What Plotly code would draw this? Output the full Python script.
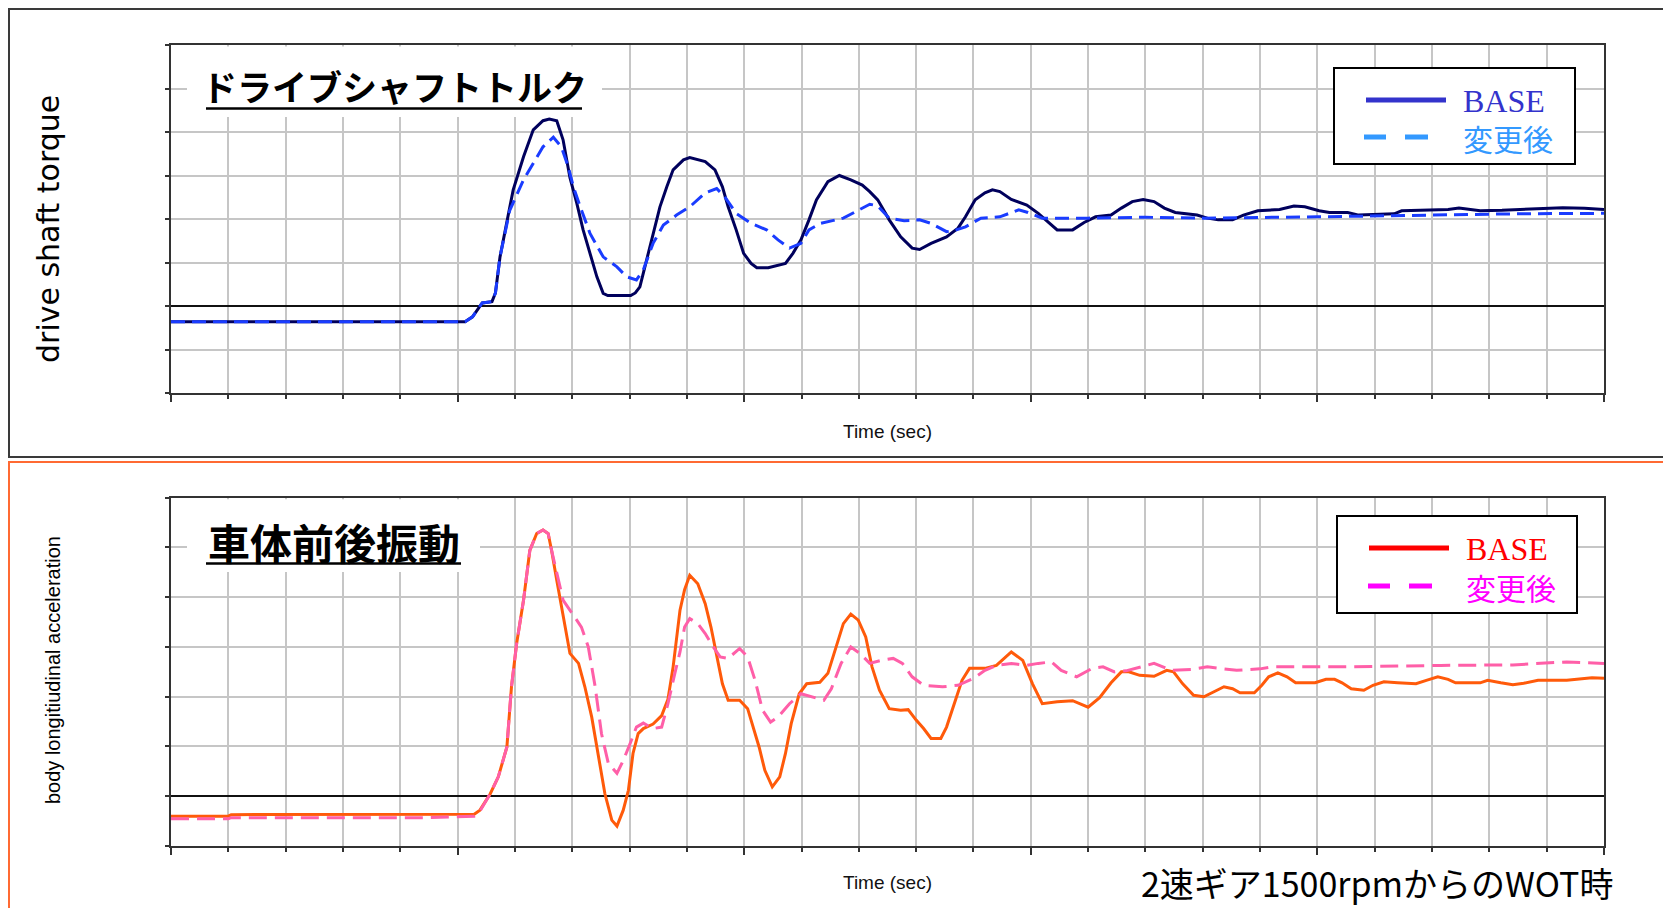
import plotly.graph_objects as go

# ---------------- data: (time [s], value) ----------------
torque_base = [
    (0.000, -0.36), (0.513, -0.36), (0.526, -0.25), (0.543, 0.07), (0.560, 0.10), (0.566, 0.30),
    (0.574, 1.13), (0.586, 1.98), (0.597, 2.67), (0.615, 3.43), (0.632, 4.05), (0.649, 4.26),
    (0.660, 4.30), (0.673, 4.26), (0.684, 3.82), (0.696, 2.95), (0.708, 2.36), (0.719, 1.75),
    (0.731, 1.21), (0.743, 0.67), (0.754, 0.29), (0.762, 0.24), (0.802, 0.24), (0.810, 0.30),
    (0.818, 0.44), (0.830, 1.06), (0.841, 1.67), (0.853, 2.28), (0.865, 2.74), (0.876, 3.13),
    (0.894, 3.36), (0.905, 3.41), (0.932, 3.32), (0.949, 3.13), (0.962, 2.74), (0.972, 2.28),
    (0.986, 1.75), (0.999, 1.21), (1.012, 0.98), (1.022, 0.88), (1.042, 0.88), (1.072, 0.98),
    (1.085, 1.21), (1.099, 1.52), (1.113, 1.98), (1.126, 2.44), (1.146, 2.86), (1.166, 3.00),
    (1.186, 2.90), (1.206, 2.78), (1.219, 2.63), (1.233, 2.44), (1.253, 1.98), (1.273, 1.59),
    (1.293, 1.33), (1.306, 1.30), (1.326, 1.44), (1.353, 1.59), (1.373, 1.79), (1.386, 2.05),
    (1.403, 2.44), (1.420, 2.60), (1.433, 2.67), (1.446, 2.63), (1.466, 2.45), (1.493, 2.32),
    (1.513, 2.13), (1.530, 1.94), (1.546, 1.75), (1.573, 1.75), (1.593, 1.92), (1.613, 2.05),
    (1.640, 2.09), (1.658, 2.25), (1.677, 2.40), (1.696, 2.45), (1.715, 2.40), (1.733, 2.25),
    (1.752, 2.15), (1.790, 2.09), (1.808, 2.02), (1.827, 1.98), (1.852, 1.98), (1.871, 2.09),
    (1.896, 2.19), (1.934, 2.22), (1.959, 2.30), (1.978, 2.28), (2.003, 2.19), (2.021, 2.15),
    (2.053, 2.15), (2.072, 2.09), (2.134, 2.12), (2.147, 2.19), (2.228, 2.22), (2.247, 2.25),
    (2.284, 2.19), (2.322, 2.20), (2.428, 2.26), (2.466, 2.25), (2.500, 2.22),
]

torque_mod = [
    (0.000, -0.36), (0.513, -0.36), (0.526, -0.25), (0.543, 0.07), (0.560, 0.10), (0.566, 0.30),
    (0.574, 1.13), (0.591, 2.20), (0.615, 2.90), (0.632, 3.28), (0.649, 3.66), (0.667, 3.88),
    (0.681, 3.66), (0.693, 3.20), (0.702, 2.74), (0.714, 2.28), (0.731, 1.67), (0.754, 1.13),
    (0.778, 0.90), (0.795, 0.67), (0.812, 0.60), (0.824, 0.83), (0.841, 1.44), (0.859, 1.86),
    (0.882, 2.09), (0.905, 2.28), (0.932, 2.60), (0.952, 2.70), (0.966, 2.51), (0.986, 2.13),
    (1.012, 1.90), (1.039, 1.75), (1.059, 1.52), (1.079, 1.33), (1.099, 1.44), (1.113, 1.75),
    (1.133, 1.90), (1.173, 2.02), (1.199, 2.21), (1.219, 2.34), (1.233, 2.30), (1.253, 2.02),
    (1.279, 1.96), (1.306, 1.98), (1.326, 1.90), (1.353, 1.71), (1.366, 1.73), (1.386, 1.82),
    (1.413, 2.02), (1.446, 2.05), (1.479, 2.21), (1.495, 2.15), (1.520, 2.02), (1.600, 2.02),
    (1.700, 2.04), (1.800, 2.02), (2.000, 2.05), (2.200, 2.09), (2.350, 2.12), (2.500, 2.13),
]

accel_base = [
    (0.000, -0.40), (0.100, -0.40), (0.105, -0.37), (0.450, -0.37), (0.529, -0.36), (0.539, -0.28),
    (0.557, 0.05), (0.571, 0.39), (0.586, 0.99), (0.594, 2.20), (0.603, 3.07), (0.615, 3.94),
    (0.626, 4.94), (0.638, 5.28), (0.649, 5.35), (0.658, 5.28), (0.664, 4.94), (0.673, 4.34),
    (0.684, 3.60), (0.696, 2.87), (0.711, 2.67), (0.722, 2.20), (0.734, 1.59), (0.745, 0.86),
    (0.757, 0.05), (0.769, -0.48), (0.778, -0.60), (0.789, -0.28), (0.798, 0.12), (0.806, 0.86),
    (0.815, 1.26), (0.824, 1.36), (0.841, 1.45), (0.856, 1.62), (0.867, 1.95), (0.876, 2.60),
    (0.888, 3.74), (0.896, 4.15), (0.905, 4.44), (0.919, 4.27), (0.932, 3.87), (0.942, 3.40),
    (0.952, 2.80), (0.962, 2.26), (0.972, 1.93), (0.992, 1.93), (1.006, 1.76), (1.016, 1.39),
    (1.026, 0.99), (1.036, 0.52), (1.049, 0.19), (1.062, 0.39), (1.072, 0.86), (1.082, 1.46),
    (1.096, 2.06), (1.109, 2.26), (1.132, 2.29), (1.146, 2.47), (1.159, 2.93), (1.173, 3.47),
    (1.186, 3.66), (1.199, 3.54), (1.212, 3.20), (1.223, 2.60), (1.236, 2.13), (1.253, 1.76),
    (1.273, 1.73), (1.286, 1.74), (1.300, 1.53), (1.313, 1.36), (1.326, 1.16), (1.343, 1.16),
    (1.353, 1.39), (1.366, 1.86), (1.380, 2.33), (1.393, 2.57), (1.420, 2.57), (1.440, 2.63),
    (1.456, 2.80), (1.466, 2.90), (1.486, 2.73), (1.503, 2.26), (1.520, 1.86), (1.546, 1.90),
    (1.573, 1.92), (1.600, 1.79), (1.620, 1.98), (1.640, 2.28), (1.658, 2.50), (1.671, 2.50),
    (1.690, 2.43), (1.715, 2.41), (1.737, 2.53), (1.749, 2.50), (1.765, 2.26), (1.784, 2.03),
    (1.802, 2.00), (1.821, 2.10), (1.837, 2.20), (1.852, 2.16), (1.865, 2.08), (1.890, 2.08),
    (1.903, 2.23), (1.915, 2.40), (1.931, 2.48), (1.947, 2.40), (1.962, 2.28), (1.996, 2.28),
    (2.015, 2.35), (2.030, 2.35), (2.043, 2.28), (2.059, 2.16), (2.081, 2.13), (2.097, 2.23),
    (2.116, 2.30), (2.140, 2.28), (2.172, 2.26), (2.190, 2.33), (2.210, 2.40), (2.228, 2.35),
    (2.241, 2.28), (2.284, 2.28), (2.297, 2.33), (2.320, 2.28), (2.341, 2.24), (2.360, 2.27),
    (2.385, 2.33), (2.435, 2.33), (2.479, 2.38), (2.500, 2.37),
]

accel_mod = [
    (0.000, -0.45), (0.100, -0.45), (0.105, -0.43), (0.450, -0.43), (0.529, -0.40), (0.539, -0.30),
    (0.557, 0.05), (0.571, 0.39), (0.586, 0.99), (0.594, 2.20), (0.603, 3.07), (0.615, 3.94),
    (0.626, 4.94), (0.638, 5.28), (0.649, 5.35), (0.658, 5.28), (0.664, 4.94), (0.673, 4.47),
    (0.684, 3.94), (0.702, 3.64), (0.716, 3.40), (0.728, 3.00), (0.740, 2.20), (0.751, 1.26),
    (0.763, 0.66), (0.778, 0.46), (0.789, 0.72), (0.801, 1.06), (0.812, 1.39), (0.824, 1.47),
    (0.841, 1.36), (0.856, 1.39), (0.867, 1.86), (0.879, 2.47), (0.888, 2.90), (0.896, 3.40),
    (0.905, 3.57), (0.919, 3.47), (0.932, 3.27), (0.946, 3.00), (0.958, 2.80), (0.972, 2.77),
    (0.992, 2.97), (1.006, 2.80), (1.019, 2.33), (1.032, 1.73), (1.046, 1.49), (1.059, 1.59),
    (1.079, 1.86), (1.099, 2.06), (1.119, 2.00), (1.139, 1.93), (1.152, 2.16), (1.169, 2.67),
    (1.186, 3.00), (1.202, 2.87), (1.219, 2.67), (1.239, 2.73), (1.260, 2.77), (1.276, 2.67),
    (1.293, 2.40), (1.313, 2.23), (1.346, 2.20), (1.373, 2.23), (1.400, 2.37), (1.420, 2.53),
    (1.440, 2.63), (1.466, 2.67), (1.493, 2.63), (1.513, 2.67), (1.536, 2.70), (1.553, 2.53),
    (1.580, 2.40), (1.607, 2.57), (1.626, 2.60), (1.646, 2.50), (1.666, 2.52), (1.693, 2.60),
    (1.715, 2.67), (1.746, 2.53), (1.780, 2.55), (1.808, 2.60), (1.833, 2.57), (1.859, 2.53),
    (1.900, 2.56), (1.921, 2.60), (2.050, 2.60), (2.153, 2.62), (2.215, 2.63), (2.341, 2.64),
    (2.435, 2.70), (2.500, 2.67),
]

series_names = ["BASE", "変更後"]
panel_titles = ["ドライブシャフトトルク", "車体前後振動"]
y_titles = ["drive shaft torque", "body longitiudinal acceleration"]
x_title = "Time (sec)"
note_text = "2速ギア1500rpmからのWOT時"
time_range = [0, 2.5]
torque_range = [-2, 6]
accel_range = [-1, 6]

# ---------------- page geometry (pixels) ----------------
W, H = 1663, 908


def fx(p):
    return p / W


def fy(p):
    return 1 - p / H


PLOT_L, PLOT_R = 171, 1604
TOP_T, TOP_B = 45, 393
BOT_T, BOT_B = 497.7, 846

JP = "Noto Sans CJK JP"
GRID = "#c6c6c6"
FRAME = "#333333"


def x_at(p):
    """pixel column -> time value on the shared x scale"""
    return time_range[0] + (p - PLOT_L) / (PLOT_R - PLOT_L) * (time_range[1] - time_range[0])


def y_at(p, top, bottom, rng):
    """pixel row -> value on a panel's y scale"""
    return rng[1] - (p - top) / (bottom - top) * (rng[1] - rng[0])


fig = go.Figure()


def add_line(points, xa, ya, color, dash, name):
    fig.add_trace(go.Scatter(
        x=[p[0] for p in points], y=[p[1] for p in points],
        xaxis=xa, yaxis=ya, mode="lines", name=name, showlegend=False,
        line=dict(color=color, width=3, dash=dash), hoverinfo="skip",
    ))


add_line(torque_base, "x", "y", "#00005c", "solid", series_names[0])
add_line(torque_mod, "x", "y", "#1a3cff", "14px,7px", series_names[1])
add_line(accel_base, "x2", "y2", "#ff5a0a", "solid", series_names[0])
add_line(accel_mod, "x2", "y2", "#ff5fa8", "18px,8px", series_names[1])


def xaxis_style(anchor):
    return dict(
        domain=[fx(PLOT_L), fx(PLOT_R)], range=time_range, anchor=anchor,
        tickmode="linear", tick0=0, dtick=0.5, ticks="outside", ticklen=7, tickwidth=2,
        tickcolor=FRAME, showticklabels=False,
        showgrid=True, gridcolor=GRID, gridwidth=2,
        minor=dict(tick0=0, dtick=0.1, ticks="outside", ticklen=4, tickwidth=1.5,
                   tickcolor=FRAME, showgrid=True, gridcolor=GRID, gridwidth=2),
        showline=True, linecolor=FRAME, linewidth=2, mirror=True, zeroline=False,
        fixedrange=True,
    )


def yaxis_style(anchor, dom, rng):
    return dict(
        domain=dom, range=rng, anchor=anchor,
        tickmode="linear", tick0=0, dtick=1, ticks="outside", ticklen=4, tickwidth=2,
        tickcolor=FRAME, showticklabels=False,
        showgrid=True, gridcolor=GRID, gridwidth=2,
        zeroline=True, zerolinecolor="#111111", zerolinewidth=1.6,
        showline=True, linecolor=FRAME, linewidth=2, mirror=True, fixedrange=True,
    )


shapes = [
    # panel frames
    dict(type="rect", xref="paper", yref="paper", x0=fx(9), x1=1.02, y0=fy(457), y1=fy(9),
         line=dict(color="#3a3a3a", width=2), fillcolor="rgba(0,0,0,0)", layer="below"),
    dict(type="rect", xref="paper", yref="paper", x0=fx(9), x1=1.02, y0=-0.02, y1=fy(462),
         line=dict(color="#ff6a33", width=2), fillcolor="rgba(0,0,0,0)", layer="below"),
    # white patches behind the panel titles (over the grid, under the curves)
    dict(type="rect", xref="x", yref="y",
         x0=x_at(187), x1=x_at(602),
         y0=y_at(117, TOP_T, TOP_B, torque_range), y1=y_at(46.5, TOP_T, TOP_B, torque_range),
         fillcolor="white", line=dict(width=0), layer="between"),
    dict(type="rect", xref="x2", yref="y2",
         x0=x_at(187), x1=x_at(480),
         y0=y_at(572, BOT_T, BOT_B, accel_range), y1=y_at(499.2, BOT_T, BOT_B, accel_range),
         fillcolor="white", line=dict(width=0), layer="between"),
    # title underlines
    dict(type="line", xref="paper", yref="paper", x0=fx(206), x1=fx(582), y0=fy(108.5), y1=fy(108.5),
         line=dict(color="black", width=2.5), layer="above"),
    dict(type="line", xref="paper", yref="paper", x0=fx(206), x1=fx(461), y0=fy(563.5), y1=fy(563.5),
         line=dict(color="black", width=2.5), layer="above"),
]

annotations = []


def text(x, y, s, size, family, color="black", xanchor="center", yanchor="middle", angle=0, weight=None):
    font = dict(family=family, size=size, color=color)
    if weight is not None:
        font["weight"] = weight
    annotations.append(dict(xref="paper", yref="paper", x=fx(x), y=fy(y), text=s, showarrow=False,
                            xanchor=xanchor, yanchor=yanchor, textangle=angle, font=font))


def legend_box(x0, x1, y0, y1, y_solid, y_dash, solid_x, dash_segs, c_solid, c_dash, text_x):
    shapes.append(dict(type="rect", xref="paper", yref="paper", x0=fx(x0), x1=fx(x1), y0=fy(y1), y1=fy(y0),
                       fillcolor="white", line=dict(color="black", width=2), layer="above"))
    shapes.append(dict(type="line", xref="paper", yref="paper", x0=fx(solid_x[0]), x1=fx(solid_x[1]),
                       y0=fy(y_solid), y1=fy(y_solid), line=dict(color=c_solid, width=5), layer="above"))
    for a, b in dash_segs:
        shapes.append(dict(type="line", xref="paper", yref="paper", x0=fx(a), x1=fx(b),
                           y0=fy(y_dash), y1=fy(y_dash), line=dict(color=c_dash, width=5), layer="above"))
    text(text_x, y_solid + 1, series_names[0], 32, "Liberation Serif", c_solid, xanchor="left")
    text(text_x, y_dash + 1, series_names[1], 30, JP, c_dash, xanchor="left")


legend_box(1334, 1575, 68, 164, 100, 137, (1366, 1446), [(1364, 1386), (1405, 1428)],
           "#3333cc", "#3399ff", 1461)
legend_box(1337, 1577, 516, 613, 548, 586, (1369, 1449), [(1368, 1390), (1409, 1432)],
           "#ff0000", "#ff00ff", 1464)

# panel titles
text(394, 86, panel_titles[0], 35, JP, weight=700)
text(334, 541, panel_titles[1], 42, JP, weight=700)

# axis titles
text(48, 229, y_titles[0], 30, "DejaVu Sans", angle=-90)
text(53, 670, y_titles[1], 20, "Liberation Sans", angle=-90)
text(887, 432, x_title, 19, "Liberation Sans", "#111111")
text(887, 882, x_title, 19, "Liberation Sans", "#111111")

# test condition note
text(1615, 882, note_text, 34, JP, xanchor="right")

fig.update_layout(
    width=W, height=H, margin=dict(l=0, r=0, t=0, b=0),
    paper_bgcolor="white", plot_bgcolor="white",
    xaxis=xaxis_style("y"), yaxis=yaxis_style("x", [fy(TOP_B), fy(TOP_T)], torque_range),
    xaxis2=xaxis_style("y2"), yaxis2=yaxis_style("x2", [fy(BOT_B), fy(BOT_T)], accel_range),
    shapes=shapes, annotations=annotations, showlegend=False,
)

fig.write_html("out.html")
